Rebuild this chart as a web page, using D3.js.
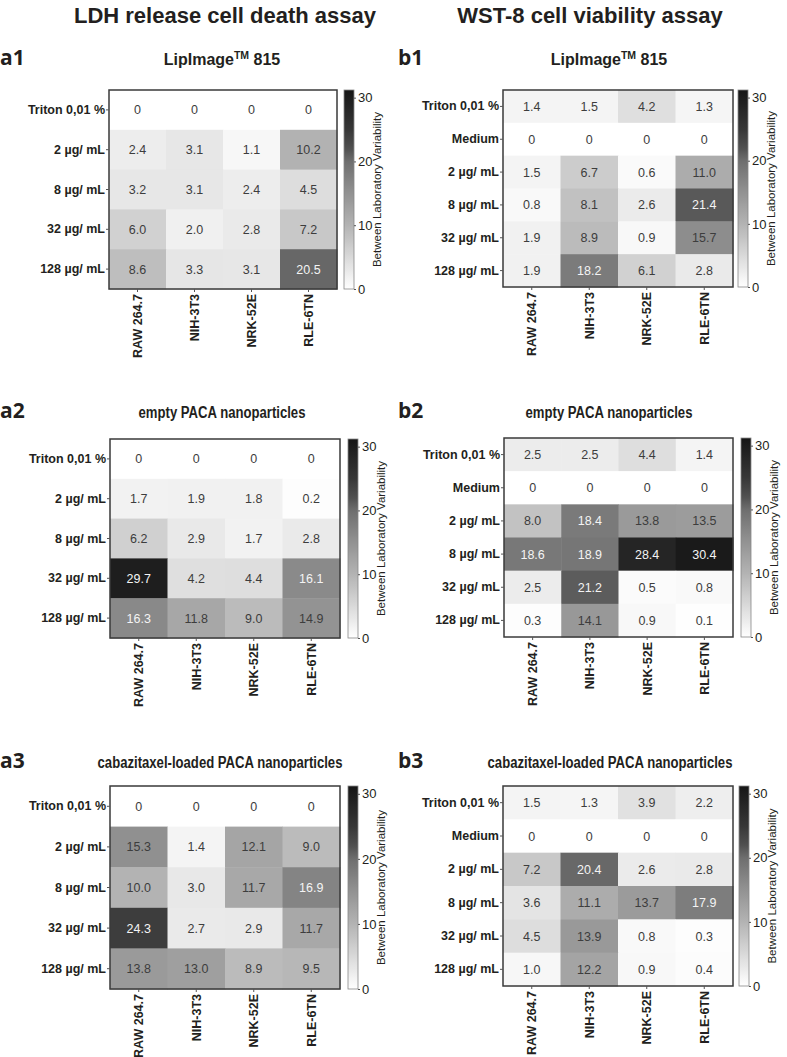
<!DOCTYPE html>
<html>
<head>
<meta charset="utf-8">
<script src="https://cdn.jsdelivr.net/npm/d3@7"></script>
<style>
  html, body { margin: 0; padding: 0; background: #fff; }
  svg { display: block; }
</style>
</head>
<body>
<script>
// ---------------- DATA ----------------
const cellLines = ["RAW 264.7", "NIH-3T3", "NRK-52E", "RLE-6TN"];
const ldhRows = ["Triton 0,01 %", "2 µg/ mL", "8 µg/ mL", "32 µg/ mL", "128 µg/ mL"];
const wstRows = ["Triton 0,01 %", "Medium", "2 µg/ mL", "8 µg/ mL", "32 µg/ mL", "128 µg/ mL"];
const colorTicks = [0, 10, 20, 30];

const a1Values = [
  [0, 0, 0, 0],
  [2.4, 3.1, 1.1, 10.2],
  [3.2, 3.1, 2.4, 4.5],
  [6.0, 2.0, 2.8, 7.2],
  [8.6, 3.3, 3.1, 20.5]
];
const a2Values = [
  [0, 0, 0, 0],
  [1.7, 1.9, 1.8, 0.2],
  [6.2, 2.9, 1.7, 2.8],
  [29.7, 4.2, 4.4, 16.1],
  [16.3, 11.8, 9.0, 14.9]
];
const a3Values = [
  [0, 0, 0, 0],
  [15.3, 1.4, 12.1, 9.0],
  [10.0, 3.0, 11.7, 16.9],
  [24.3, 2.7, 2.9, 11.7],
  [13.8, 13.0, 8.9, 9.5]
];
const b1Values = [
  [1.4, 1.5, 4.2, 1.3],
  [0, 0, 0, 0],
  [1.5, 6.7, 0.6, 11.0],
  [0.8, 8.1, 2.6, 21.4],
  [1.9, 8.9, 0.9, 15.7],
  [1.9, 18.2, 6.1, 2.8]
];
const b2Values = [
  [2.5, 2.5, 4.4, 1.4],
  [0, 0, 0, 0],
  [8.0, 18.4, 13.8, 13.5],
  [18.6, 18.9, 28.4, 30.4],
  [2.5, 21.2, 0.5, 0.8],
  [0.3, 14.1, 0.9, 0.1]
];
const b3Values = [
  [1.5, 1.3, 3.9, 2.2],
  [0, 0, 0, 0],
  [7.2, 20.4, 2.6, 2.8],
  [3.6, 11.1, 13.7, 17.9],
  [4.5, 13.9, 0.8, 0.3],
  [1.0, 12.2, 0.9, 0.4]
];

const columnTitles = ["LDH release cell death assay", "WST-8 cell viability assay"];
const panelTitles = ["LipImage", "empty PACA nanoparticles", "cabazitaxel-loaded PACA nanoparticles"];
const colorbarLabel = "Between Laboratory Variability";

// ---------------- LAYOUT ----------------
const W = 787, H = 1057;
const panels = [
  { tag: "a1", rows: ldhRows, values: a1Values, title: 0, box: [109, 90, 337, 289], cb: 344, tx: 222, ty: 65 },
  { tag: "a2", rows: ldhRows, values: a2Values, title: 1, box: [110, 439, 340, 638], cb: 348, tx: 222, ty: 418 },
  { tag: "a3", rows: ldhRows, values: a3Values, title: 2, box: [110, 786, 340, 989], cb: 348, tx: 220, ty: 768 },
  { tag: "b1", rows: wstRows, values: b1Values, title: 0, box: [503, 90, 733, 287], cb: 738, tx: 609, ty: 65 },
  { tag: "b2", rows: wstRows, values: b2Values, title: 1, box: [504, 438, 733, 637], cb: 741, tx: 609, ty: 418 },
  { tag: "b3", rows: wstRows, values: b3Values, title: 2, box: [503, 786, 733, 986], cb: 739, tx: 610, ty: 768 }
];
const labelX = { a: 0, b: 398 };
const CB_W = 10, CB_MAX = 31.2;

// grey colour scale (piecewise)
const color = d3.scaleLinear()
  .domain([0, 10, 15, 20, 22, 25, 31.2])
  .range(["#ffffff", "#b3b3b3", "#929292", "#6e6e6e", "#505050", "#373737", "#161616"])
  .interpolate(d3.interpolateRgb)
  .clamp(true);

const fmt = v => v === 0 ? "0" : v.toFixed(1);
const SANS = "'Liberation Sans', Arial, Helvetica, sans-serif";

const svg = d3.select("body").append("svg").attr("width", W).attr("height", H)
  .style("font-family", SANS);

// column titles
svg.selectAll("text.coltitle").data(columnTitles).join("text")
  .attr("class", "coltitle")
  .attr("x", (d, i) => i === 0 ? 225 : 590)
  .attr("y", 23)
  .attr("text-anchor", "middle")
  .attr("font-size", 22)
  .attr("font-weight", "bold")
  .attr("fill", "#231f20")
  .text(d => d);

// gradient
const defs = svg.append("defs");
const grad = defs.append("linearGradient").attr("id", "cbgrad")
  .attr("x1", 0).attr("y1", 1).attr("x2", 0).attr("y2", 0);
d3.range(0, 1.0001, 0.02).forEach(t => {
  grad.append("stop").attr("offset", t).attr("stop-color", color(t * CB_MAX));
});

panels.forEach(p => {
  const [x0, y0, x1, y1] = p.box;
  const g = svg.append("g");
  const x = d3.scaleBand().domain(cellLines).range([x0, x1]);
  const y = d3.scaleBand().domain(p.rows).range([y0, y1]);

  // panel tag
  g.append("text")
    .attr("x", labelX[p.tag[0]])
    .attr("y", p.ty)
    .attr("font-family", "'Open Sans', 'Noto Sans', sans-serif")
    .attr("font-size", 21)
    .attr("font-weight", "bold")
    .attr("fill", "#231f20")
    .text(p.tag);

  // panel title
  const t = g.append("text")
    .attr("text-anchor", "middle")
    .attr("font-size", 16)
    .attr("font-weight", "bold")
    .attr("fill", "#231f20");
  if (p.title === 0) {
    t.attr("transform", `translate(${p.tx},${p.ty})`);
    t.append("tspan").text(panelTitles[0]);
    t.append("tspan").attr("dy", -6).attr("font-size", 10.5).text("TM");
    t.append("tspan").attr("dy", 6).text(" 815");
  } else {
    t.attr("transform", `translate(${p.tx},${p.ty}) scale(0.82,1)`);
    t.text(panelTitles[p.title]);
  }

  // cells
  const cells = [];
  p.values.forEach((row, ri) => row.forEach((v, ci) => cells.push({ r: p.rows[ri], c: cellLines[ci], v })));
  g.selectAll("rect.cell").data(cells).join("rect")
    .attr("class", "cell")
    .attr("x", d => x(d.c)).attr("y", d => y(d.r))
    .attr("width", x.bandwidth() + 0.5).attr("height", y.bandwidth() + 0.5)
    .attr("fill", d => color(d.v));
  g.selectAll("text.val").data(cells).join("text")
    .attr("class", "val")
    .attr("x", d => x(d.c) + x.bandwidth() / 2)
    .attr("y", d => y(d.r) + y.bandwidth() / 2)
    .attr("dy", "0.36em")
    .attr("text-anchor", "middle")
    .attr("font-size", 12.5)
    .attr("fill", d => d.v > 16 ? "#f4f4f4" : "#3d3d3d")
    .text(d => fmt(d.v));

  // box
  g.append("rect").attr("x", x0).attr("y", y0).attr("width", x1 - x0).attr("height", y1 - y0)
    .attr("fill", "none").attr("stroke", "#3a3a3a").attr("stroke-width", 1.5);

  // row axis
  const ay = g.append("g").attr("transform", `translate(${x0},0)`)
    .call(d3.axisLeft(y).tickSize(3).tickPadding(1));
  ay.select(".domain").remove();
  ay.selectAll("line").attr("stroke", "#555");
  ay.selectAll("text").attr("font-size", 12.5).attr("font-weight", "bold")
    .attr("fill", "#231f20").attr("font-family", SANS);

  // column axis
  const ax = g.append("g").attr("transform", `translate(0,${y1})`)
    .call(d3.axisBottom(x).tickSize(3));
  ax.select(".domain").remove();
  ax.selectAll("line").attr("stroke", "#555");
  ax.selectAll("text")
    .attr("transform", "rotate(-90)")
    .attr("x", -5).attr("y", 0).attr("dy", "0.36em")
    .attr("text-anchor", "end")
    .attr("font-size", 12.5).attr("font-weight", "bold")
    .attr("fill", "#231f20").attr("font-family", SANS);

  // colorbar
  const cbScale = d3.scaleLinear().domain([0, CB_MAX]).range([y1, y0]);
  g.append("rect").attr("x", p.cb).attr("y", y0).attr("width", CB_W).attr("height", y1 - y0)
    .attr("fill", "url(#cbgrad)").attr("stroke", "#888").attr("stroke-width", 0.8);
  const ac = g.append("g").attr("transform", `translate(${p.cb + CB_W},0)`)
    .call(d3.axisRight(cbScale).tickValues(colorTicks).tickSize(2).tickPadding(2));
  ac.select(".domain").remove();
  ac.selectAll("line").attr("stroke", "#555");
  ac.selectAll("text").attr("font-size", 13).attr("fill", "#231f20")
    .attr("font-family", SANS);

  g.append("text")
    .attr("transform", `translate(${p.cb + CB_W + 27},${(y0 + y1) / 2}) rotate(-90)`)
    .attr("text-anchor", "middle")
    .attr("font-size", 11.5)
    .attr("fill", "#231f20")
    .text(colorbarLabel);
});
</script>
</body>
</html>
